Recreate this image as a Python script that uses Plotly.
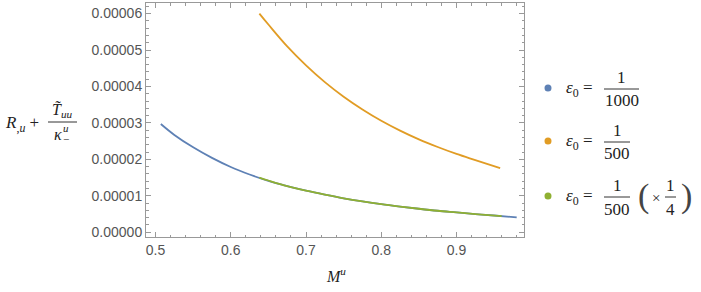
import plotly.graph_objects as go

# ---- data (values in units of 1e-5) ----
blue_x = [0.507, 0.525, 0.55, 0.575, 0.6, 0.625, 0.65, 0.675, 0.7, 0.725, 0.75,
          0.775, 0.8, 0.825, 0.85, 0.875, 0.9, 0.925, 0.95, 0.98]
blue_y = [2.97, 2.67, 2.33, 2.04, 1.79, 1.585, 1.41, 1.265, 1.14, 1.03, 0.93,
          0.845, 0.77, 0.705, 0.645, 0.59, 0.545, 0.50, 0.46, 0.41]

orange_x = [0.638, 0.65, 0.675, 0.7, 0.725, 0.75, 0.775, 0.8, 0.825, 0.85,
            0.875, 0.9, 0.925, 0.958]
orange_y = [6.00, 5.70, 5.10, 4.58, 4.12, 3.72, 3.37, 3.06, 2.79, 2.55,
            2.34, 2.15, 1.98, 1.76]

green_x = [0.638, 0.65, 0.675, 0.7, 0.725, 0.75, 0.775, 0.8, 0.825, 0.85,
           0.875, 0.9, 0.925, 0.96]
green_y = [1.50, 1.42, 1.265, 1.14, 1.03, 0.93, 0.845, 0.77, 0.705, 0.645,
           0.59, 0.545, 0.50, 0.44]

series_names = ["ε0 = 1/1000", "ε0 = 1/500", "ε0 = 1/500 (×1/4)"]
colors = ["#5E81B5", "#E19C24", "#8FB032"]

x_ticks = [0.5, 0.6, 0.7, 0.8, 0.9]
y_ticks = [0.0, 0.00001, 0.00002, 0.00003, 0.00004, 0.00005, 0.00006]
y_tick_text = ["0.00000", "0.00001", "0.00002", "0.00003", "0.00004", "0.00005", "0.00006"]

SCALE = 1e-5

W, H = 701, 292
L, R, T, B = 146, 524, 3, 237


def px(x):
    return (x - L) / (R - L)


def py(y):
    return (B - y) / (B - T)


fig = go.Figure()
for xs, ys, c, n in [(blue_x, blue_y, colors[0], series_names[0]),
                     (orange_x, orange_y, colors[1], series_names[1]),
                     (green_x, green_y, colors[2], series_names[2])]:
    fig.add_trace(go.Scatter(x=xs, y=[v * SCALE for v in ys], mode="lines",
                             line=dict(color=c, width=1.8, shape="spline"),
                             name=n, showlegend=False, hoverinfo="skip"))

axis_col = "#999999"
tick_font = dict(family="Liberation Sans", size=14, color="#555555")

fig.update_xaxes(range=[0.4873, 0.9897], tickvals=x_ticks,
                 ticktext=[f"{v:.1f}" for v in x_ticks],
                 showgrid=False, zeroline=False, showline=True, linecolor=axis_col,
                 linewidth=1, mirror="allticks", ticks="inside", ticklen=5,
                 tickcolor=axis_col, tickfont=tick_font,
                 minor=dict(ticks="inside", ticklen=2.5, dtick=0.02, tickcolor=axis_col,
                            showgrid=False))
fig.update_yaxes(range=[-0.13e-5, 6.29e-5], tickvals=y_ticks, ticktext=y_tick_text,
                 showgrid=False, zeroline=False, showline=True, linecolor=axis_col,
                 linewidth=1, mirror="allticks", ticks="inside", ticklen=5,
                 tickcolor=axis_col, tickfont=tick_font,
                 minor=dict(ticks="inside", ticklen=2.5, dtick=0.2e-5, tickcolor=axis_col,
                            showgrid=False))

serif = "Liberation Serif"
annotations = []
shapes = []


def txt(x, y, s, size=16, xanchor="center", yanchor="middle", color="#222222"):
    annotations.append(dict(x=px(x), y=py(y), xref="paper", yref="paper", text=s,
                            showarrow=False, xanchor=xanchor, yanchor=yanchor,
                            font=dict(family=serif, size=size, color=color)))


def hline(x0, x1, y):
    shapes.append(dict(type="line", xref="paper", yref="paper", x0=px(x0), x1=px(x1),
                       y0=py(y), y1=py(y), line=dict(color="#333333", width=1)))


# y-axis label
txt(3, 124, "<i>R</i><sub>,<i>u</i></sub> +", size=17, xanchor="left")
txt(62, 110, "<i>T̃</i><sub><i>uu</i></sub>", size=16)
hline(48, 77, 122)
txt(58, 134, "<i>κ</i>", size=16)
txt(66, 128, "<i>u</i>", size=11)
txt(66, 139, "−", size=11)

# x-axis label
txt(336, 275, "<i>M</i><sup><i>u</i></sup>", size=16)

# legend
legend_rows = [(88, "1000", 604, 639), (141, "500", 604, 630), (196, "500", 604, 630)]
for (yy, den, fx0, fx1), c in zip(legend_rows, colors):
    shapes.append(dict(type="circle", xref="paper", yref="paper",
                       xsizemode="pixel", ysizemode="pixel",
                       xanchor=px(548), yanchor=py(yy), x0=-3.5, x1=3.5, y0=-3.5, y1=3.5,
                       fillcolor=c, line=dict(width=0)))
    txt(564, yy + 1, "<i>ε</i><sub>0</sub> =", size=17, xanchor="left")
    fc = (fx0 + fx1) / 2
    txt(fc, yy - 11, "1", size=17)
    hline(fx0, fx1, yy + 1)
    txt(fc, yy + 13, den, size=17)

# extra "(×1/4)" for the third row
txt(643, 196, "(", size=34, color="#444444")
txt(656, 198, "×", size=15)
txt(670, 185, "1", size=17)
hline(665, 676, 197)
txt(670, 209, "4", size=17)
txt(686, 196, ")", size=34, color="#444444")

fig.update_layout(width=W, height=H, margin=dict(l=L, r=W - R, t=T, b=H - B),
                  paper_bgcolor="white", plot_bgcolor="white",
                  annotations=annotations, shapes=shapes, showlegend=False)

fig.write_html("out.html", config={"displayModeBar": False},
               post_script="document.body.style.margin='0px';")
